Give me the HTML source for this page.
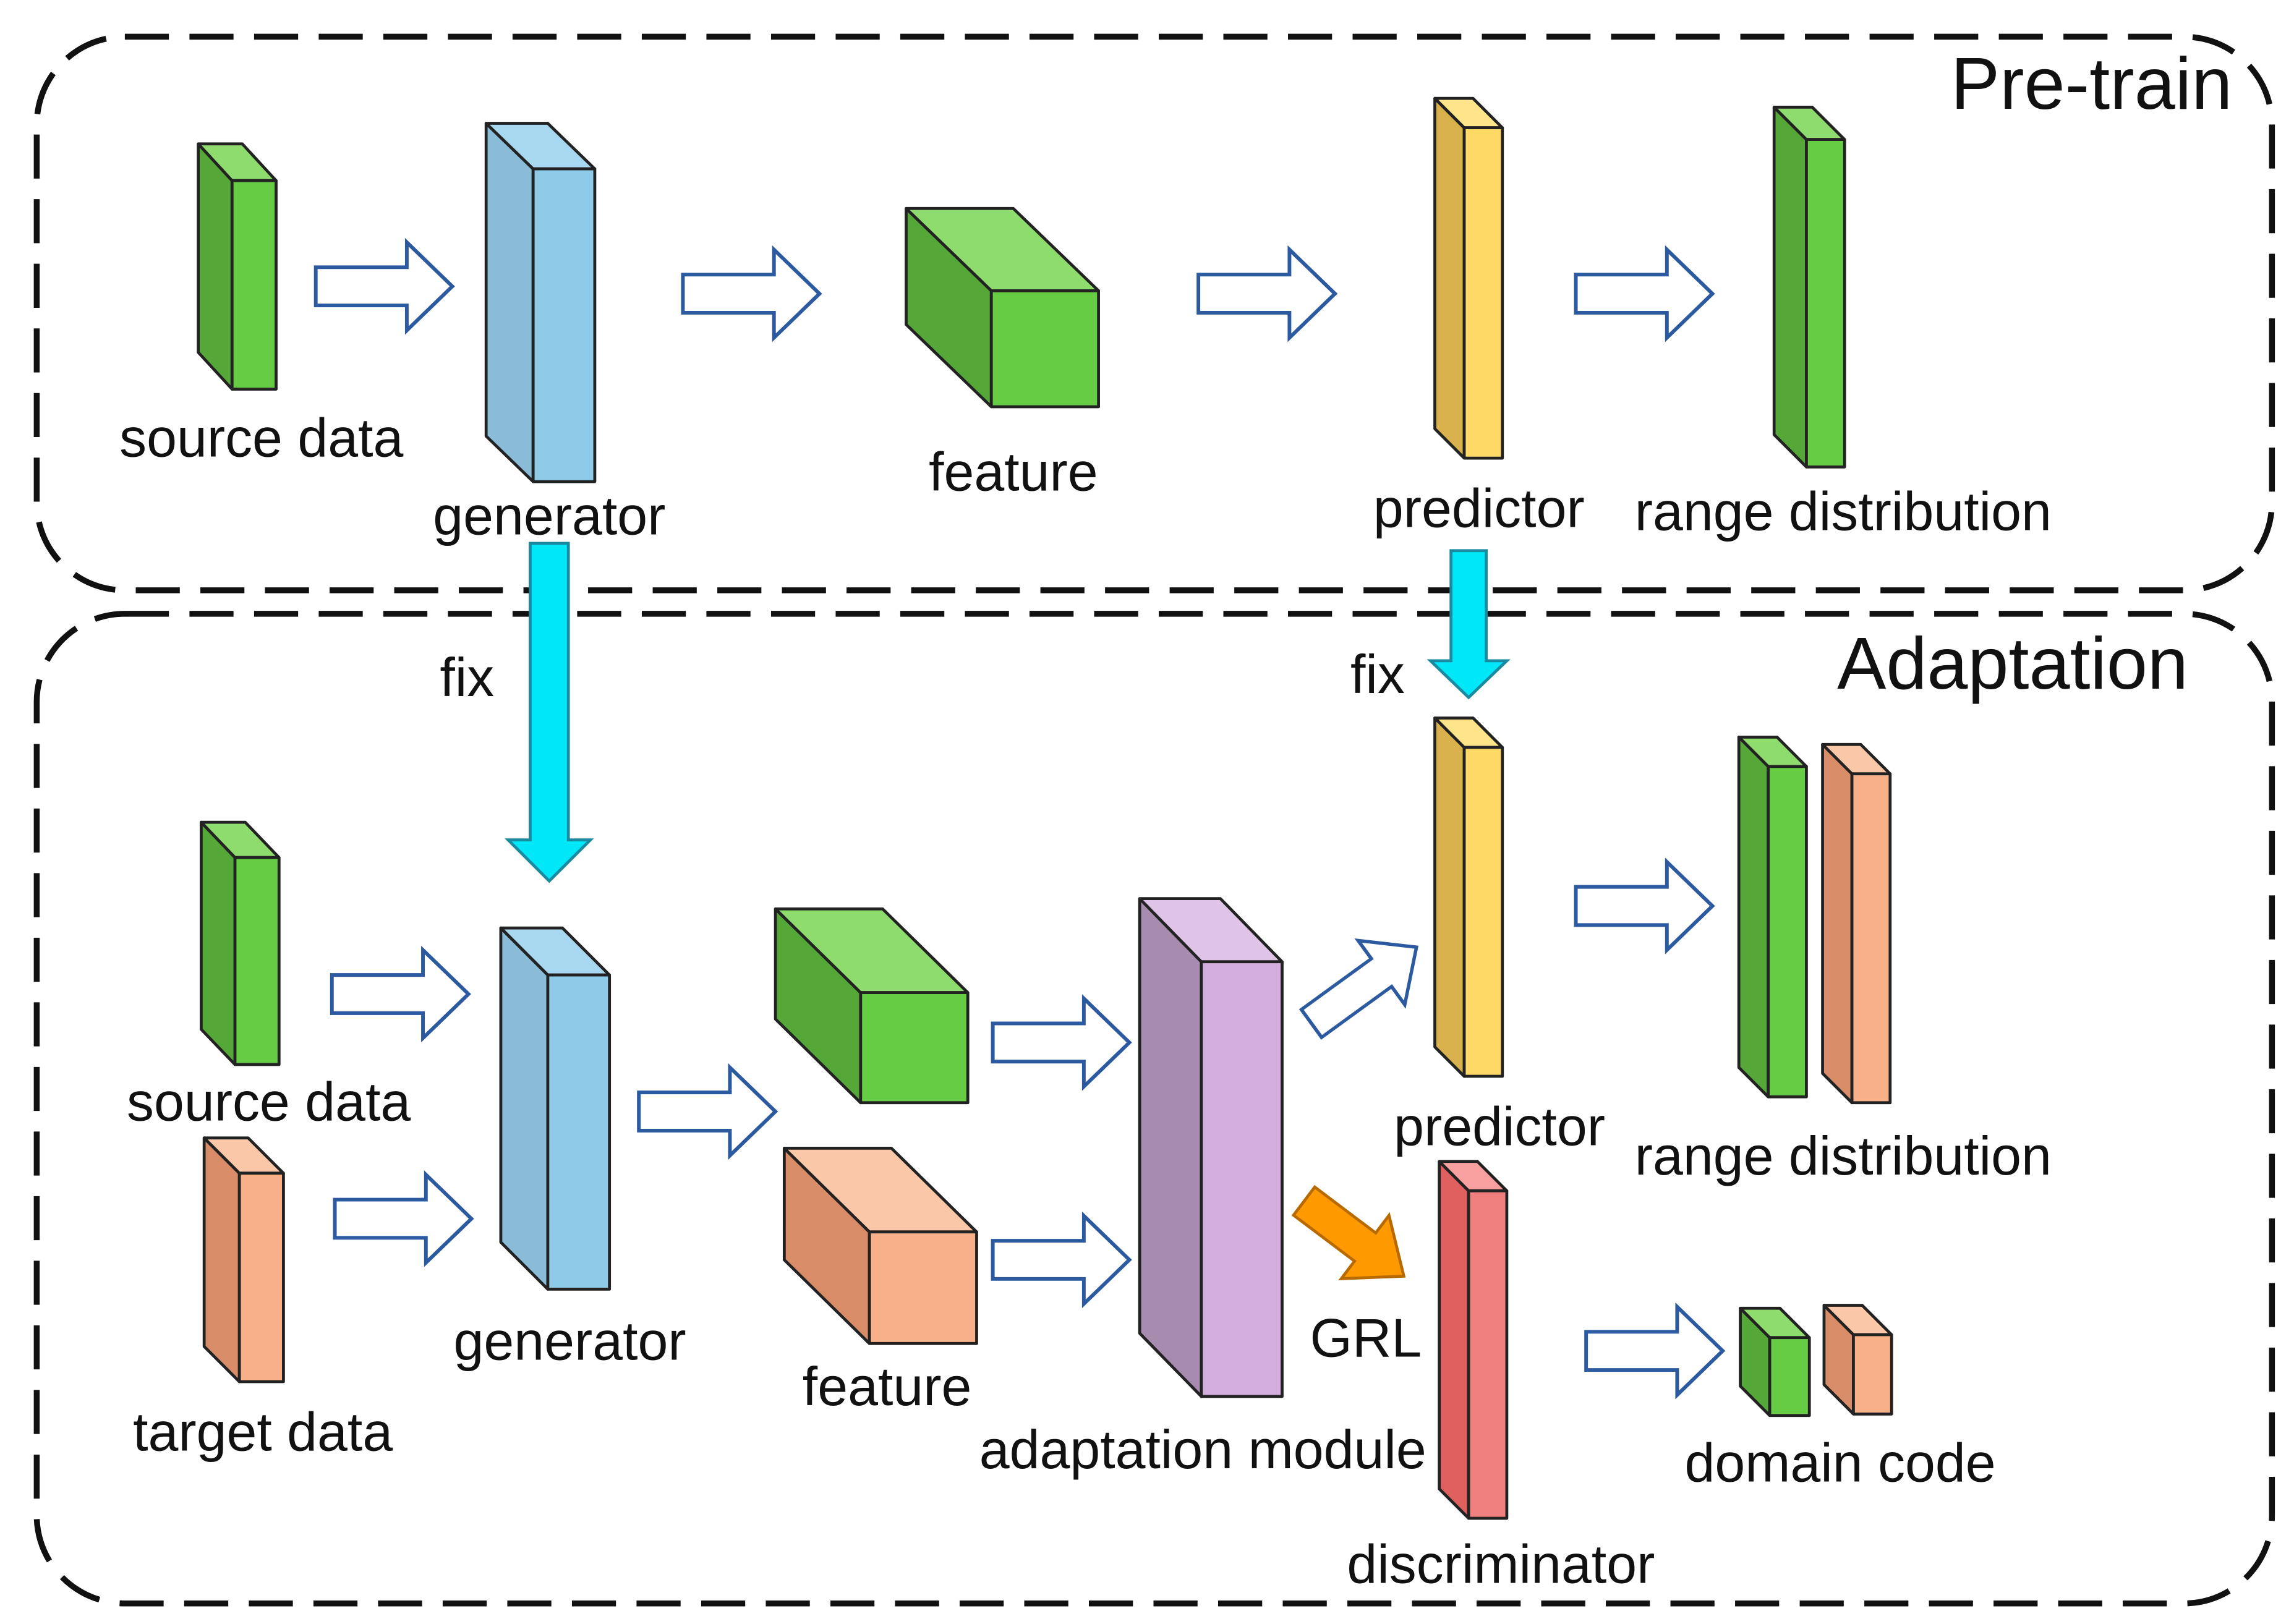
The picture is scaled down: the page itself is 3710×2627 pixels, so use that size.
<!DOCTYPE html>
<html><head><meta charset="utf-8"><style>
html,body{margin:0;padding:0;background:#fff;}
svg{display:block;}
text{font-family:"Liberation Sans",Arial,sans-serif;fill:#111;}
</style></head><body>
<svg width="3710" height="2627" viewBox="0 0 1562 1106" xmlns="http://www.w3.org/2000/svg">
<defs>
<g id="ha"><path d="M0,-13 H62 V-30 L93,0 L62,30 V13 H0 Z" fill="#fff" stroke="#2c5aa0" stroke-width="2.5"/></g>
</defs>
<rect x="25" y="25" width="1522" height="377" rx="60" fill="none" stroke="#111" stroke-width="4" stroke-dasharray="30 14"/>
<rect x="25" y="418" width="1522" height="674" rx="60" fill="none" stroke="#111" stroke-width="4" stroke-dasharray="30 14"/>
<text x="1520" y="74" font-size="50" text-anchor="end">Pre-train</text>
<text x="1490" y="469" font-size="50" text-anchor="end">Adaptation</text>

<use href="#ha" transform="translate(215,195)"/>
<use href="#ha" transform="translate(465,200)"/>
<use href="#ha" transform="translate(816,200)"/>
<use href="#ha" transform="translate(1073,200)"/>
<use href="#ha" transform="translate(226,677)"/>
<use href="#ha" transform="translate(228,830)"/>
<use href="#ha" transform="translate(435,757)"/>
<use href="#ha" transform="translate(676,710)"/>
<use href="#ha" transform="translate(676,858)"/>
<use href="#ha" transform="translate(1073,617)"/>
<use href="#ha" transform="translate(1080,920)"/>
<use href="#ha" transform="translate(893,697) rotate(-36) scale(0.95,0.9)"/>
<path d="M0,-12 H52 V-27 L85,0 L52,27 V12 H0 Z" transform="translate(888,818) rotate(37)" fill="#ff9900" stroke="#b86a00" stroke-width="2"/>
<path d="M361,370 H387 V572 H402 L374,600 L346,572 H361 Z" fill="#00e8f8" stroke="#1a8aa0" stroke-width="2"/>
<path d="M988,375 H1012 V450 H1026 L1000,475 L974,450 H988 Z" fill="#00e8f8" stroke="#1a8aa0" stroke-width="2"/>

<g stroke="#222" stroke-width="2" stroke-linejoin="round">
<polygon points="135,98 158,123 158,265 135,240" fill="#55a838"/>
<polygon points="135,98 165,98 188,123 158,123" fill="#8edc6e"/>
<rect x="158" y="123" width="30" height="142" fill="#66cc44"/>
<polygon points="331,84 363,115 363,328 331,297" fill="#8abcd8"/>
<polygon points="331,84 373,84 405,115 363,115" fill="#a8d8f0"/>
<rect x="363" y="115" width="42" height="213" fill="#8dcbe8"/>
<polygon points="617,142 675,198 675,277 617,221" fill="#55a838"/>
<polygon points="617,142 690,142 748,198 675,198" fill="#8edc6e"/>
<rect x="675" y="198" width="73" height="79" fill="#66cc44"/>
<polygon points="977,67 997,87 997,312 977,292" fill="#d8b04c"/>
<polygon points="977,67 1003,67 1023,87 997,87" fill="#ffe48a"/>
<rect x="997" y="87" width="26" height="225" fill="#ffd966"/>
<polygon points="1208,73 1230,95 1230,318 1208,296" fill="#55a838"/>
<polygon points="1208,73 1234,73 1256,95 1230,95" fill="#8edc6e"/>
<rect x="1230" y="95" width="26" height="223" fill="#66cc44"/>

<polygon points="137,560 160,584 160,725 137,701" fill="#55a838"/>
<polygon points="137,560 167,560 190,584 160,584" fill="#8edc6e"/>
<rect x="160" y="584" width="30" height="141" fill="#66cc44"/>
<polygon points="139,775 163,799 163,941 139,917" fill="#d88c68"/>
<polygon points="139,775 169,775 193,799 163,799" fill="#fac8a8"/>
<rect x="163" y="799" width="30" height="142" fill="#f8b088"/>
<polygon points="341,632 373,664 373,878 341,846" fill="#8abcd8"/>
<polygon points="341,632 383,632 415,664 373,664" fill="#a8d8f0"/>
<rect x="373" y="664" width="42" height="214" fill="#8dcbe8"/>
<polygon points="528,619 586,676 586,751 528,694" fill="#55a838"/>
<polygon points="528,619 601,619 659,676 586,676" fill="#8edc6e"/>
<rect x="586" y="676" width="73" height="75" fill="#66cc44"/>
<polygon points="534,782 592,839 592,915 534,858" fill="#d88c68"/>
<polygon points="534,782 607,782 665,839 592,839" fill="#fac8a8"/>
<rect x="592" y="839" width="73" height="76" fill="#f8b088"/>
<polygon points="776,612 818,655 818,951 776,908" fill="#a88cb0"/>
<polygon points="776,612 831,612 873,655 818,655" fill="#e0c4e8"/>
<rect x="818" y="655" width="55" height="296" fill="#d4aedc"/>
<polygon points="977,489 997,509 997,733 977,713" fill="#d8b04c"/>
<polygon points="977,489 1003,489 1023,509 997,509" fill="#ffe48a"/>
<rect x="997" y="509" width="26" height="224" fill="#ffd966"/>
<polygon points="980,791 1000,811 1000,1034 980,1014" fill="#e06060"/>
<polygon points="980,791 1006,791 1026,811 1000,811" fill="#f8a0a0"/>
<rect x="1000" y="811" width="26" height="223" fill="#f08080"/>
<polygon points="1184,502 1204,522 1204,747 1184,727" fill="#55a838"/>
<polygon points="1184,502 1210,502 1230,522 1204,522" fill="#8edc6e"/>
<rect x="1204" y="522" width="26" height="225" fill="#66cc44"/>
<polygon points="1241,507 1261,527 1261,751 1241,731" fill="#d88c68"/>
<polygon points="1241,507 1267,507 1287,527 1261,527" fill="#fac8a8"/>
<rect x="1261" y="527" width="26" height="224" fill="#f8b088"/>
<polygon points="1185,891 1205,911 1205,964 1185,944" fill="#55a838"/>
<polygon points="1185,891 1212,891 1232,911 1205,911" fill="#8edc6e"/>
<rect x="1205" y="911" width="27" height="53" fill="#66cc44"/>
<polygon points="1242,889 1262,909 1262,963 1242,943" fill="#d88c68"/>
<polygon points="1242,889 1268,889 1288,909 1262,909" fill="#fac8a8"/>
<rect x="1262" y="909" width="26" height="54" fill="#f8b088"/>
</g>

<g font-size="37">
<text x="178" y="311" text-anchor="middle">source data</text>
<text x="374" y="364" text-anchor="middle">generator</text>
<text x="690" y="334" text-anchor="middle">feature</text>
<text x="1007" y="359" text-anchor="middle">predictor</text>
<text x="1255" y="361" text-anchor="middle">range distribution</text>
<text x="318" y="474" text-anchor="middle">fix</text>
<text x="938" y="472" text-anchor="middle">fix</text>
<text x="183" y="763" text-anchor="middle">source data</text>
<text x="179" y="988" text-anchor="middle">target data</text>
<text x="388" y="926" text-anchor="middle">generator</text>
<text x="604" y="957" text-anchor="middle">feature</text>
<text x="819" y="1000" text-anchor="middle">adaptation module</text>
<text x="1021" y="780" text-anchor="middle">predictor</text>
<text x="1255" y="800" text-anchor="middle">range distribution</text>
<text x="930" y="924" text-anchor="middle">GRL</text>
<text x="1253" y="1009" text-anchor="middle">domain code</text>
<text x="1022" y="1078" text-anchor="middle">discriminator</text>
</g>
</svg>
</body></html>
